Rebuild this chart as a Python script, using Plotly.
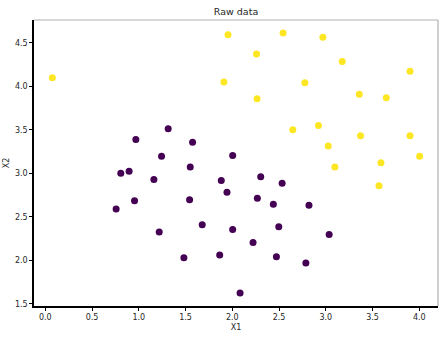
import plotly.graph_objects as go

# Class 0 points (purple)
x1_class0 = [0.968, 1.314, 1.575, 1.243, 1.550, 0.896, 2.004, 2.304, 2.533, 1.943,
             2.268, 2.439, 2.820, 2.004, 2.497, 3.036, 2.222, 2.472, 2.787, 2.083,
             1.882, 0.807, 1.161, 0.954, 1.543, 0.757, 1.678, 1.218, 1.482, 1.865]
x2_class0 = [3.389, 3.512, 3.358, 3.196, 3.072, 3.023, 3.204, 2.961, 2.887, 2.783,
             2.714, 2.645, 2.633, 2.355, 2.387, 2.298, 2.205, 2.040, 1.970, 1.624,
             2.918, 3.000, 2.930, 2.684, 2.695, 2.591, 2.410, 2.325, 2.028, 2.060]

# Class 1 points (yellow)
x1_class1 = [0.075, 1.910, 1.954, 2.543, 2.969, 2.259, 3.176, 3.901, 2.776, 3.358,
             3.647, 2.265, 2.647, 2.922, 3.372, 3.901, 3.026, 4.004, 3.097, 3.590, 3.569]
x2_class1 = [4.100, 4.050, 4.595, 4.614, 4.564, 4.372, 4.286, 4.175, 4.043, 3.909,
             3.870, 3.858, 3.500, 3.551, 3.431, 3.431, 3.315, 3.196, 3.072, 3.123, 2.857]

x_ticks = [0.0, 0.5, 1.0, 1.5, 2.0, 2.5, 3.0, 3.5, 4.0]
y_ticks = [1.5, 2.0, 2.5, 3.0, 3.5, 4.0, 4.5]


def padded(values, frac=0.05):
    lo, hi = min(values), max(values)
    pad = (hi - lo) * frac
    return [lo - pad, hi + pad]


all_x = x1_class0 + x1_class1
all_y = x2_class0 + x2_class1

font = dict(family="DejaVu Sans", size=8, color="#262626")

fig = go.Figure()
fig.add_trace(go.Scatter(x=x1_class0, y=x2_class0, mode="markers",
                         marker=dict(color="#440154", size=7, line=dict(width=0)),
                         showlegend=False))
fig.add_trace(go.Scatter(x=x1_class1, y=x2_class1, mode="markers",
                         marker=dict(color="#fde725", size=7, line=dict(width=0)),
                         showlegend=False))

axis_common = dict(showgrid=False, zeroline=False, ticks="outside", ticklen=3,
                   tickwidth=1, tickcolor="#000000", showline=True,
                   linecolor="#000000", linewidth=1.5, tickfont=font)

fig.update_xaxes(range=padded(all_x), tickvals=x_ticks,
                 ticktext=[f"{v:.1f}" for v in x_ticks],
                 title=dict(text="X1", font=font, standoff=3), **axis_common)
fig.update_yaxes(range=padded(all_y), tickvals=y_ticks,
                 ticktext=[f"{v:.1f}" for v in y_ticks],
                 title=dict(text="X2", font=font, standoff=4), **axis_common)

# light top and right frame lines
fig.add_shape(type="line", xref="paper", yref="paper", x0=0, x1=1, y0=1, y1=1,
              line=dict(color="#b0b0b0", width=1.2))
fig.add_shape(type="line", xref="paper", yref="paper", x0=1, x1=1, y0=0, y1=1,
              line=dict(color="#b0b0b0", width=1.2))

fig.update_layout(
    width=444, height=339,
    margin=dict(l=34, r=6, t=20, b=33),
    paper_bgcolor="white", plot_bgcolor="white",
    title=dict(text="Raw data", x=0.5, xanchor="center", xref="paper",
               y=1, yref="container", yanchor="top", pad=dict(t=8),
               font=dict(family="DejaVu Sans", size=9.5, color="#262626")),
)

fig.write_html("out.html")
